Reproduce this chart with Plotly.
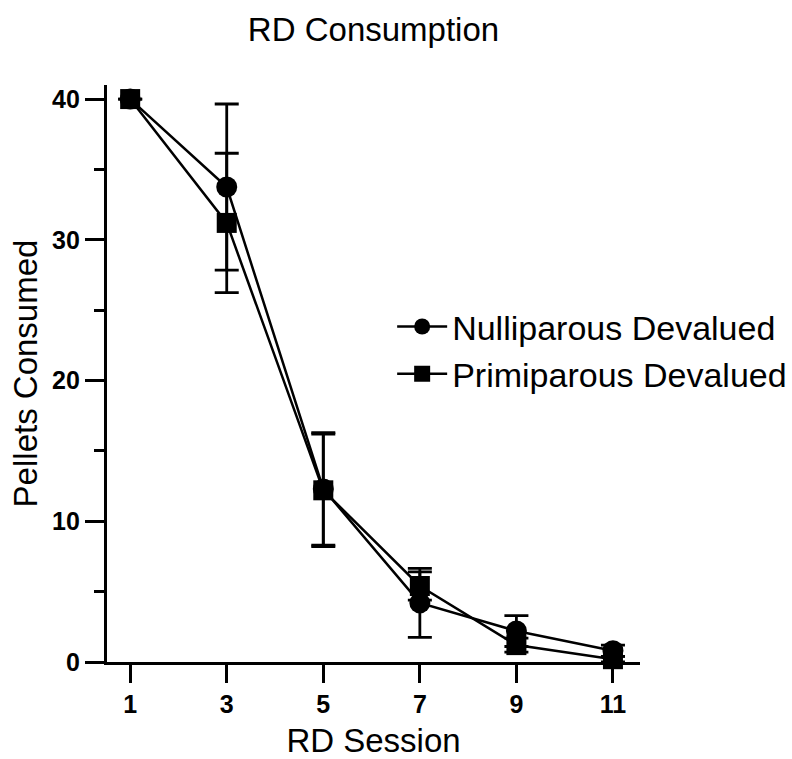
import plotly.graph_objects as go

sessions = [1, 3, 5, 7, 9, 11]
nulli_mean = [40, 33.75, 12.3, 4.2, 2.2, 0.8]
nulli_err = [0, 5.9, 4.0, 2.45, 1.1, 0.4]
primi_mean = [40, 31.2, 12.2, 5.4, 1.2, 0.2]
primi_err = [0, 4.95, 4.0, 1.0, 0.5, 0.2]
x_ticks = [1, 3, 5, 7, 9, 11]
y_ticks = [0, 10, 20, 30, 40]

FONT = "Arial, 'Liberation Sans', sans-serif"

fig = go.Figure()
fig.add_trace(go.Scatter(
    x=sessions, y=nulli_mean, name="Nulliparous Devalued",
    mode="lines+markers",
    line=dict(color="black", width=2.5),
    marker=dict(symbol="circle", size=21, color="black"),
    error_y=dict(type="data", array=nulli_err, visible=True, color="black", thickness=2.8, width=12),
    cliponaxis=False,
))
fig.add_trace(go.Scatter(
    x=sessions, y=primi_mean, name="Primiparous Devalued",
    mode="lines+markers",
    line=dict(color="black", width=2.5),
    marker=dict(symbol="square", size=20, color="black"),
    error_y=dict(type="data", array=primi_err, visible=True, color="black", thickness=2.8, width=12),
    cliponaxis=False,
))

fig.update_layout(
    width=792, height=759,
    margin=dict(l=107, r=152, t=85, b=97, autoexpand=False),
    paper_bgcolor="white", plot_bgcolor="white",
    font=dict(family=FONT, color="black"),
    title=dict(text="RD Consumption", x=(107 + 640) / 2 / 792, xanchor="center",
               xref="container", yref="container", y=1 - 29 / 759, yanchor="middle",
               font=dict(size=33, family=FONT)),
    showlegend=True,
    legend=dict(x=0.535, y=0.54, xanchor="left", yanchor="middle",
                bgcolor="rgba(0,0,0,0)", font=dict(size=34, family=FONT),
                itemwidth=50, tracegroupgap=0),
)
fig.update_xaxes(
    range=[0.52, 11.56], tickvals=x_ticks, ticktext=[str(v) for v in x_ticks],
    showline=True, linecolor="black", linewidth=3.2,
    ticks="outside", ticklen=18, tickwidth=3, tickcolor="black",
    tickfont=dict(size=25, family=FONT, weight="bold"),
    showgrid=False, zeroline=False, layer="below traces", automargin=False,
    title=dict(text="RD Session", font=dict(size=33, family=FONT), standoff=21),
)
fig.update_yaxes(
    range=[0, 41], tickvals=y_ticks, ticktext=[str(v) for v in y_ticks],
    showline=True, linecolor="black", linewidth=3.2,
    ticks="outside", ticklen=19, tickwidth=3, tickcolor="black",
    minor=dict(tickvals=[5, 15, 25, 35], ticks="outside", ticklen=10, tickwidth=3, tickcolor="black"),
    tickfont=dict(size=25, family=FONT, weight="bold"),
    showgrid=False, zeroline=False, layer="below traces", automargin=False,
    title=dict(text="Pellets Consumed", font=dict(size=33, family=FONT), standoff=5),
)

fig.write_html("out.html")
